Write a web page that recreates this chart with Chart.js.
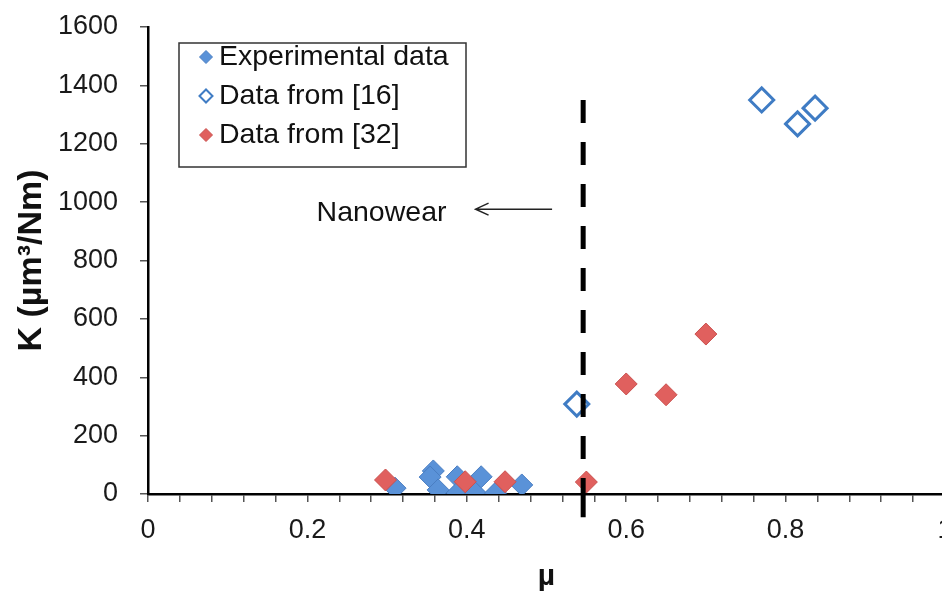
<!DOCTYPE html>
<html>
<head>
<meta charset="utf-8">
<script src="https://cdn.jsdelivr.net/npm/chart.js@4.4.1/dist/chart.umd.min.js"></script>
<style>
  html, body { margin: 0; padding: 0; background: #fff; overflow: hidden; }
  #wrap { width: 962px; height: 599px; position: relative; }
</style>
</head>
<body>
<div id="wrap"><canvas id="grafico"></canvas></div>
<script>
// Valores (µ, K)
const expMu = [0.310, 0.358, 0.354, 0.364, 0.388, 0.388, 0.411, 0.418, 0.436, 0.469];
const expK = [20, 79, 58, 14, 59, 3, 3, 59, 3, 31];
const ref16Mu = [0.538, 0.770, 0.815, 0.837];
const ref16K = [308, 1350, 1268, 1322];
const ref32Mu = [0.298, 0.398, 0.448, 0.550, 0.600, 0.650, 0.700];
const ref32K = [48, 42, 42, 41, 377, 340, 548];
const limiteMu = [0.546, 0.546];
const limiteK = [1350, -80];
const nombres = ["Experimental data", "Data from [16]", "Data from [32]"];
const xMajor = [0, 0.2, 0.4, 0.6, 0.8, 1];
const yTicks = [0, 200, 400, 600, 800, 1000, 1200, 1400, 1600];
const nota = { texto: "Nanowear", mu: 0.293, k: 961, flechaDesde: 0.507, flechaHasta: 0.411, flechaK: 976 };

const FONT = '"Liberation Sans", Arial, sans-serif';
const azul = '#5a92d8', azulBorde = '#4a7ec2';
const rojo = '#e0605e', rojoBorde = '#c9504e';
const azulHueco = '#3f7cc4';

// patrón de guiones: el último tramo cruza el eje
const guiones = [];
for (let i = 0; i < 9; i++) guiones.push(23, 19);
guiones.push(40, 60);

function puntos(xs, ys) {
  return xs.map((x, i) => ({ x: x, y: ys[i] }));
}

// Leyenda con marco, como en la figura original
const leyendaPlugin = {
  id: 'leyendaMarco',
  afterDraw(chart) {
    const ctx = chart.ctx;
    ctx.save();
    ctx.strokeStyle = '#333';
    ctx.lineWidth = 1.5;
    ctx.strokeRect(179, 43, 287, 124);
    const filas = [57, 96, 135];
    const estilos = [
      { fill: azul, stroke: azulBorde, bw: 1 },
      { fill: '#fff', stroke: azulHueco, bw: 2 },
      { fill: rojo, stroke: rojoBorde, bw: 1 }
    ];
    nombres.forEach((n, i) => {
      ctx.fillStyle = estilos[i].fill;
      ctx.strokeStyle = estilos[i].stroke;
      ctx.lineWidth = estilos[i].bw;
      Chart.helpers.drawPoint(ctx, { pointStyle: 'rectRot', radius: 6.5, borderWidth: estilos[i].bw, rotation: 0 }, 206, filas[i]);
      ctx.fillStyle = '#111';
      ctx.font = '28.5px ' + FONT;
      ctx.textBaseline = 'middle';
      ctx.textAlign = 'left';
      ctx.fillText(n, 219, filas[i]);
    });
    ctx.restore();
  }
};

// Texto "Nanowear" y flecha
const notaPlugin = {
  id: 'nota',
  afterDatasetsDraw(chart) {
    const { ctx, scales: { x, y } } = chart;
    ctx.save();
    ctx.fillStyle = '#111';
    ctx.font = '28.5px ' + FONT;
    ctx.textAlign = 'center';
    ctx.textBaseline = 'middle';
    ctx.fillText(nota.texto, x.getPixelForValue(nota.mu), y.getPixelForValue(nota.k));
    const x0 = x.getPixelForValue(nota.flechaDesde);
    const x1 = x.getPixelForValue(nota.flechaHasta);
    const yy = y.getPixelForValue(nota.flechaK);
    ctx.strokeStyle = '#222';
    ctx.lineWidth = 1.5;
    ctx.beginPath();
    ctx.moveTo(x0, yy);
    ctx.lineTo(x1, yy);
    ctx.moveTo(x1 + 13, yy - 6);
    ctx.lineTo(x1, yy);
    ctx.lineTo(x1 + 13, yy + 6);
    ctx.stroke();
    ctx.restore();
  }
};

function cargarGrafico() {
  const ctx = document.getElementById('grafico');
  new Chart(ctx.getContext('2d'), {
    type: 'scatter',
    data: {
      datasets: [
        {
          label: 'limite',
          data: puntos(limiteMu, limiteK),
          showLine: true,
          pointRadius: 0,
          borderColor: '#000',
          borderWidth: 5,
          borderDash: guiones,
          borderCapStyle: 'butt',
          clip: false,
          order: 0
        },
        {
          label: nombres[2],
          data: puntos(ref32Mu, ref32K),
          pointStyle: 'rectRot',
          pointRadius: 11,
          backgroundColor: rojo,
          borderColor: rojoBorde,
          borderWidth: 1,
          order: 1
        },
        {
          label: nombres[1],
          data: puntos(ref16Mu, ref16K),
          pointStyle: 'rectRot',
          pointRadius: 12,
          backgroundColor: '#fff',
          borderColor: azulHueco,
          borderWidth: 3,
          order: 2
        },
        {
          label: nombres[0],
          data: puntos(expMu, expK),
          pointStyle: 'rectRot',
          pointRadius: 11,
          backgroundColor: azul,
          borderColor: azulBorde,
          borderWidth: 1,
          order: 3
        }
      ]
    },
    options: {
      responsive: true,
      maintainAspectRatio: false,
      animation: false,
      layout: { padding: { top: 27, right: 17, left: 0, bottom: 0 } },
      plugins: {
        legend: { display: false },
        tooltip: { enabled: false }
      },
      scales: {
        x: {
          type: 'linear',
          min: 0,
          max: 1,
          afterFit: (s) => { s.height = 105; s.paddingLeft = 0; s.paddingRight = 0; },
          afterBuildTicks: (s) => {
            const t = [];
            for (let i = 0; i <= 25; i++) t.push({ value: i / 25 });
            s.ticks = t;
          },
          ticks: {
            autoSkip: false,
            maxRotation: 0,
            padding: 12,
            color: '#1a1a1a',
            font: { family: FONT, size: 27 },
            callback: (v) => {
              const m = xMajor.find(a => Math.abs(a - v) < 1e-6);
              return m === undefined ? '' : String(m);
            }
          },
          grid: { drawOnChartArea: false, drawTicks: true, tickLength: 8, color: '#555', lineWidth: 1.5 },
          border: { display: true, color: '#000', width: 2.5 },
          title: { display: true, text: 'µ', color: '#111', font: { family: FONT, size: 30, weight: 'bold' }, padding: { top: 0, bottom: 4 } }
        },
        y: {
          min: 0,
          max: 1600,
          afterFit: (s) => { s.width = 148; s.paddingTop = 0; s.paddingBottom = 0; },
          afterBuildTicks: (s) => { s.ticks = yTicks.map(v => ({ value: v })); },
          ticks: {
            padding: 22,
            color: '#1a1a1a',
            font: { family: FONT, size: 27 },
            callback: (v) => String(v)
          },
          grid: { drawOnChartArea: false, drawTicks: true, tickLength: 8, color: '#555', lineWidth: 1.5 },
          border: { display: true, color: '#000', width: 2.5 },
          title: { display: true, text: 'K (µm³/Nm)', color: '#111', font: { family: FONT, size: 34, weight: 'bold' }, padding: { top: 11, bottom: 0 } }
        }
      }
    },
    plugins: [notaPlugin, leyendaPlugin]
  });
}

cargarGrafico();
</script>
</body>
</html>
